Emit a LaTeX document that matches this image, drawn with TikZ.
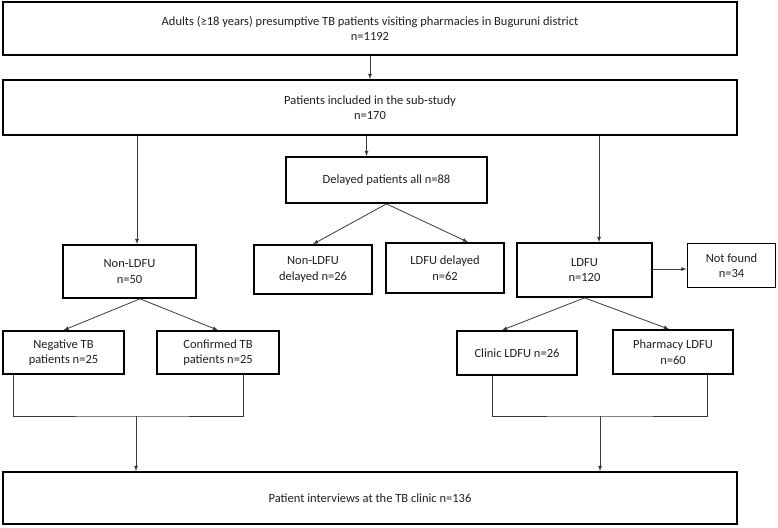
\documentclass[tikz,border=0pt]{standalone}
\usepackage{fontspec}
\setmainfont{Carlito}
\usetikzlibrary{arrows}
\definecolor{linegray}{HTML}{3A3A3A}
\tikzstyle{block} = [rectangle, draw=black, line width=1.7pt, inner sep=0pt, align=center, text=black!88, font=\fontsize{12.5}{15.5}\selectfont]
\tikzstyle{arrow} = [draw=linegray, line width=0.8pt, ->, >=latex]
\tikzstyle{bracket} = [draw=linegray, line width=0.8pt]

\begin{document}
\begin{tikzpicture}[x=1pt, y=-1pt]
        \useasboundingbox (0,0) rectangle (778,527);
        % screening and sub-study
        \node (adults) [block, minimum width=734.5pt, minimum height=53pt] at (370,28.5) {Adults (≥18 years) presumptive TB patients visiting pharmacies in Buguruni district\\n=1192};
        \node (incl) [block, minimum width=734.5pt, minimum height=55pt] at (370,107.5) {Patients included in the sub-study\\n=170};
        \node (delayed) [block, minimum width=201pt, minimum height=46pt] at (386.5,180) {Delayed patients all n=88};

        % middle row
        \node (nonldfu) [block, minimum width=133pt, minimum height=53pt] at (129.5,271.5) {Non-LDFU\\n=50};
        \node (nldel) [block, minimum width=118pt, minimum height=49pt] at (313,269.5) {Non-LDFU\\delayed n=26};
        \node (ldel) [block, minimum width=118pt, minimum height=50pt] at (445,268) {LDFU delayed\\n=62};
        \node (ldfu) [block, minimum width=135pt, minimum height=54pt] at (584.5,270) {LDFU\\n=120};
        \node (notfound) [block, minimum width=88pt, minimum height=44pt] at (731.5,265.5) {Not found\\n=34};

        % lower row
        \node (neg) [block, minimum width=121pt, minimum height=43pt] at (63.5,352.5) {Negative TB\\patients n=25};
        \node (conf) [block, minimum width=122pt, minimum height=43pt] at (218,352.5) {Confirmed TB\\patients n=25};
        \node (clinic) [block, minimum width=120pt, minimum height=44pt] at (517,353) {Clinic LDFU n=26};
        \node (pharm) [block, minimum width=120pt, minimum height=44pt] at (673,352) {Pharmacy LDFU\\n=60};

        \node (interv) [block, minimum width=734.5pt, minimum height=52pt] at (370,498) {Patient interviews at the TB clinic n=136};

        \coordinate (joinL) at (136,416);
        \coordinate (joinR) at (600,416);

        \draw [arrow] (adults) -- (incl);
        \draw [arrow] ([xshift=7.5pt]nonldfu.north |- incl.south) -- ([xshift=7.5pt]nonldfu.north);
        \draw [arrow] ([xshift=-20pt]delayed.north |- incl.south) -- ([xshift=-20pt]delayed.north);
        \draw [arrow] ([xshift=14.5pt]ldfu.north |- incl.south) -- ([xshift=14.5pt]ldfu.north);

        \draw [arrow] (delayed.south) -- (nldel.north);
        \draw [arrow] (delayed.south) -- ([xshift=23pt]ldel.north);

        \draw [arrow] ([xshift=10.5pt]nonldfu.south) -- (neg.north);
        \draw [arrow] ([xshift=10.5pt]nonldfu.south) -- (conf.north);
        \draw [arrow] (ldfu.south) -- ([xshift=-15pt]clinic.north);
        \draw [arrow] (ldfu.south) -- ([xshift=-4pt]pharm.north);
        \draw [arrow] ([yshift=1pt]ldfu.east) -- ([yshift=1pt]ldfu.east -| notfound.west);

        \draw [bracket] ([xshift=-50.5pt]neg.south) |- (joinL) -| ([xshift=25pt]conf.south);
        \draw [bracket] ([xshift=-25pt]clinic.south) |- (joinR) -| ([xshift=34pt]pharm.south);
        \draw [arrow] (joinL) -- (joinL |- interv.north);
        \draw [arrow] (joinR) -- (joinR |- interv.north);
      \end{tikzpicture}
\end{document}
